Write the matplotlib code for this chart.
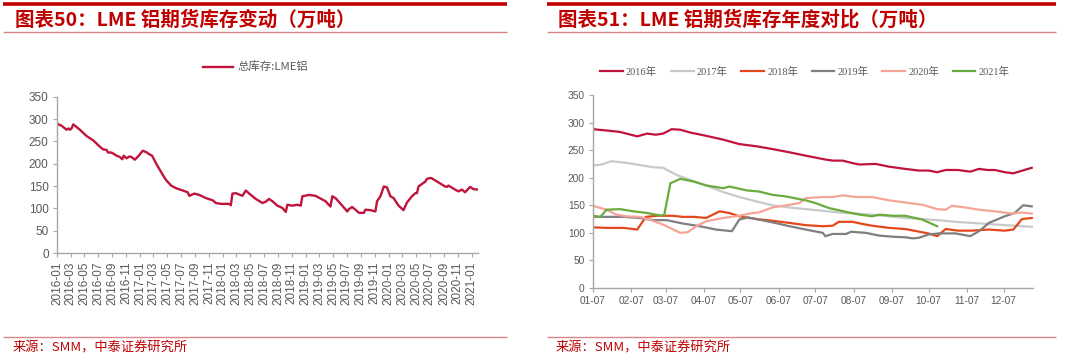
import matplotlib
matplotlib.use("Agg")
import matplotlib.pyplot as plt
import matplotlib.dates as mdates
from matplotlib.lines import Line2D
from matplotlib.font_manager import FontProperties
import pandas as pd

# ---------------- data: left chart (总库存:LME铝) ----------------
lme_dates = ["2016-01-04", "2016-01-21", "2016-02-05", "2016-02-12", "2016-02-20", "2016-02-27",
             "2016-03-05", "2016-03-13", "2016-03-20", "2016-04-11", "2016-05-10", "2016-06-09",
             "2016-07-08", "2016-07-22", "2016-08-06", "2016-08-13", "2016-08-28", "2016-09-19",
             "2016-10-04", "2016-10-15", "2016-10-21", "2016-11-02", "2016-11-14", "2016-11-24",
             "2016-12-09", "2016-12-23", "2017-01-13", "2017-01-28", "2017-02-11", "2017-02-23",
             "2017-03-13", "2017-03-27", "2017-04-11", "2017-04-26", "2017-05-18", "2017-06-09",
             "2017-07-08", "2017-07-30", "2017-08-06", "2017-08-28", "2017-09-19", "2017-10-18",
             "2017-11-17", "2017-12-01", "2017-12-23", "2018-01-29", "2018-02-05", "2018-02-12",
             "2018-02-27", "2018-03-28", "2018-04-12", "2018-04-27", "2018-05-26", "2018-06-24",
             "2018-07-09", "2018-07-23", "2018-08-07", "2018-08-29", "2018-09-20", "2018-10-05",
             "2018-10-12", "2018-11-03", "2018-11-25", "2018-12-10", "2018-12-17", "2019-01-15",
             "2019-02-13", "2019-03-29", "2019-04-20", "2019-04-28", "2019-05-12", "2019-06-11",
             "2019-07-03", "2019-07-10", "2019-07-24", "2019-08-08", "2019-08-23", "2019-09-14",
             "2019-09-21", "2019-10-13", "2019-11-04", "2019-11-11", "2019-11-26", "2019-12-11",
             "2019-12-25", "2020-01-09", "2020-01-23", "2020-02-14", "2020-03-07", "2020-03-22",
             "2020-04-13", "2020-04-28", "2020-05-05", "2020-05-12", "2020-06-11", "2020-06-18",
             "2020-07-03", "2020-07-10", "2020-08-08", "2020-09-06", "2020-09-14", "2020-09-21",
             "2020-10-20", "2020-11-04", "2020-11-19", "2020-12-03", "2020-12-25", "2021-01-09",
             "2021-01-29"]
lme_values = [289, 285, 279, 276, 279, 276,
              279, 288, 285, 276, 262, 252,
              238, 232, 231, 225, 225, 218,
              215, 210, 218, 212, 216, 215,
              209, 216, 229, 226, 221, 218,
              200, 188, 175, 163, 151, 145,
              140, 136, 128, 133, 130, 123,
              118, 112, 110, 110, 107, 133,
              134, 128, 140, 133, 121, 112,
              115, 121, 116, 106, 101, 92,
              108, 106, 108, 106, 127, 130,
              128, 116, 104, 127, 123, 106,
              93, 98, 103, 97, 90, 90,
              97, 96, 93, 116, 127, 149,
              147, 127, 123, 106, 96, 113,
              127, 134, 134, 149, 160, 166,
              168, 167, 158, 149, 148, 151,
              142, 138, 142, 136, 148, 143,
              142]

# ---------------- data: right chart (年度对比) ----------------
# x = day of year, y = 万吨
y2016_day = [6, 20, 28, 42, 50, 57, 63, 70, 77, 85, 98, 112, 125, 139, 152, 166, 179, 195, 201,
             209, 220, 223, 236, 247, 260, 271, 279, 286, 293, 303, 313, 320, 327, 333, 341, 348, 363]
y2016_val = [288, 285, 283, 275, 280, 278, 280, 288, 287, 282, 276, 269, 261, 257, 252, 246, 240,
             233, 231, 231, 225, 224, 225, 220, 216, 213, 213, 210, 214, 214, 211, 216, 214, 214,
             210, 208, 218]

y2017_day = [6, 13, 21, 33, 44, 55, 63, 74, 85, 98, 112, 125, 139, 152, 166, 179, 193, 206, 220,
             233, 247, 260, 274, 287, 301, 314, 328, 341, 355, 363]
y2017_val = [222, 224, 230, 227, 223, 219, 218, 205, 196, 186, 174, 165, 157, 150, 146, 143, 140,
             137, 135, 133, 130, 127, 125, 123, 120, 118, 116, 114, 112, 111]

y2018_day = [6, 17, 31, 42, 49, 58, 71, 79, 88, 98, 109, 117, 125, 139, 152, 166, 179, 193, 201,
             206, 217, 228, 233, 247, 260, 274, 279, 286, 293, 303, 314, 328, 341, 348, 355, 363]
y2018_val = [110, 109, 109, 106, 129, 131, 131, 129, 129, 127, 139, 136, 130, 125, 122, 118, 114,
             112, 113, 120, 120, 115, 113, 109, 107, 101, 99, 94, 107, 104, 104, 106, 104, 106,
             125, 127]

y2019_day = [6, 17, 31, 44, 55, 66, 79, 93, 106, 119, 125, 132, 139, 152, 166, 179, 193, 195, 201,
             212, 216, 228, 239, 250, 260, 266, 271, 279, 287, 301, 313, 320, 325, 328, 341, 349,
             356, 363]
y2019_val = [129, 129, 129, 127, 123, 123, 117, 112, 106, 103, 124, 128, 125, 119, 112, 106, 100,
             94, 98, 98, 102, 100, 95, 93, 92, 90, 91, 97, 99, 99, 94, 103, 112, 118, 130, 136,
             150, 148]

y2020_day = [6, 17, 25, 33, 44, 52, 63, 77, 83, 90, 98, 112, 125, 136, 141, 152, 166, 174, 179,
             193, 201, 209, 220, 233, 247, 260, 274, 286, 293, 298, 309, 320, 333, 347, 355, 363]
y2020_val = [149, 142, 133, 130, 129, 124, 115, 100, 101, 112, 121, 127, 131, 136, 137, 146, 151,
             154, 163, 165, 165, 168, 165, 165, 159, 155, 151, 143, 142, 149, 146, 142, 139, 135,
             137, 135]

y2021_day = [6, 12, 17, 28, 39, 50, 62, 64, 69, 77, 88, 98, 112, 117, 131, 141, 152, 163, 179,
             187, 198, 212, 223, 233, 239, 250, 260, 274, 286]
y2021_val = [131, 129, 142, 143, 139, 136, 131, 133, 190, 198, 193, 186, 181, 184, 177, 175, 169,
             166, 159, 154, 145, 138, 133, 130, 133, 131, 131, 124, 112]

series_names = ["2016年", "2017年", "2018年", "2019年", "2020年", "2021年"]
series_days = [y2016_day, y2017_day, y2018_day, y2019_day, y2020_day, y2021_day]
series_vals = [y2016_val, y2017_val, y2018_val, y2019_val, y2020_val, y2021_val]
series_colors = ["#c0143c", "#c9c9c9", "#e2481c", "#7f7f7f", "#f5a597", "#6aab3d"]

right_ticks_day = [6, 37, 65, 96, 126, 157, 187, 218, 249, 279, 310, 340]
right_tick_labels = ["01-07", "02-07", "03-07", "04-07", "05-07", "06-07",
                     "07-07", "08-07", "09-07", "10-07", "11-07", "12-07"]

title_left = "图表50：LME 铝期货库存变动（万吨）"
title_right = "图表51：LME 铝期货库存年度对比（万吨）"
source_text = "来源：SMM，中泰证券研究所"
legend_left = "总库存:LME铝"

# ---------------- figure ----------------
W, H = 1080, 358
plt.rcParams['font.family'] = ['Liberation Sans', 'Noto Sans CJK SC']
fig = plt.figure(figsize=(W / 100, H / 100), dpi=100)
fig.patch.set_facecolor("white")


def fx(px):
    return px / W


def fy(py):
    return 1 - py / H


RED = "#c00000"
CJK = ['Noto Sans CJK SC', 'Liberation Sans']


def hline(x0, x1, y, lw, color):
    fig.add_artist(Line2D([fx(x0), fx(x1)], [fy(y), fy(y)], transform=fig.transFigure,
                          lw=lw, color=color, solid_capstyle='butt'))


# header / footer decorations
for (x0, x1, tx, title) in [(3, 507, 15, title_left), (547, 1056, 558, title_right)]:
    hline(x0, x1, 4, 2.6, RED)
    hline(x0, x1, 32, 1.0, "#d9878a")
    hline(x0, x1, 337, 1.0, "#d9878a")
    fig.text(fx(tx), fy(20), title, color=RED, fontsize=14, fontweight='bold',
             family=CJK, va='center', ha='left')
    fig.text(fx(tx - 2), fy(348), source_text, color=RED, fontsize=9.5,
             family=CJK, va='center', ha='left')

AX_GREY = "#a6a6a6"
TICK_GREY = "#595959"

# ---------------- left chart ----------------
axL = fig.add_axes([fx(57), fy(253), fx(478) - fx(57), fy(96.7) - fy(253)])
dates = pd.to_datetime(lme_dates)
axL.plot(dates, lme_values, color="#c0143c", lw=1.7, label=legend_left)
axL.set_ylim(0, 350)
axL.set_yticks(range(0, 351, 50))
axL.set_xlim(pd.Timestamp("2016-01-01"), pd.Timestamp("2021-01-29"))
axL.xaxis.set_major_locator(mdates.MonthLocator(bymonth=[1, 3, 5, 7, 9, 11]))
axL.xaxis.set_major_formatter(mdates.DateFormatter('%Y-%m'))
for lab in axL.get_xticklabels():
    lab.set_rotation(90)
for s in ['top', 'right']:
    axL.spines[s].set_visible(False)
for s in ['left', 'bottom']:
    axL.spines[s].set_color(AX_GREY)
    axL.spines[s].set_linewidth(1.0)
axL.tick_params(axis='both', colors=AX_GREY, labelcolor=TICK_GREY, labelsize=8.5,
                length=3, width=0.8, direction='out', pad=3)
legL = axL.legend(loc='center left', bbox_to_anchor=(fx(203), fy(67)),
                  bbox_transform=fig.transFigure, frameon=False, borderpad=0,
                  borderaxespad=0, handlelength=2.6, handletextpad=0.4,
                  prop=FontProperties(family=['Noto Sans CJK SC'], size=8.2))
for t in legL.get_texts():
    t.set_color(TICK_GREY)

# ---------------- right chart ----------------
axR = fig.add_axes([fx(593), fy(288), fx(1033) - fx(593), fy(95) - fy(288)])
for name, d, v, c in zip(series_names, series_days, series_vals, series_colors):
    axR.plot(d, v, color=c, lw=1.6, label=name)
axR.set_ylim(0, 350)
axR.set_yticks(range(0, 351, 50))
axR.set_xlim(6, 364)
axR.set_xticks(right_ticks_day)
axR.set_xticklabels(right_tick_labels)
for s in ['top', 'right']:
    axR.spines[s].set_visible(False)
for s in ['left', 'bottom']:
    axR.spines[s].set_color(AX_GREY)
    axR.spines[s].set_linewidth(1.0)
axR.tick_params(axis='both', colors=AX_GREY, labelcolor=TICK_GREY, labelsize=7.3,
                length=3, width=0.8, direction='out', pad=3)
legR = axR.legend(loc='center left', bbox_to_anchor=(fx(600), fy(72)),
                  bbox_transform=fig.transFigure, frameon=False, borderpad=0,
                  borderaxespad=0, ncol=6, handlelength=2.2, handletextpad=0.3,
                  columnspacing=1.3,
                  prop=FontProperties(family=['Liberation Serif', 'Noto Sans CJK SC'], size=7.5))
for t in legR.get_texts():
    t.set_color(TICK_GREY)

fig.savefig("out.png", dpi=100, facecolor="white")
